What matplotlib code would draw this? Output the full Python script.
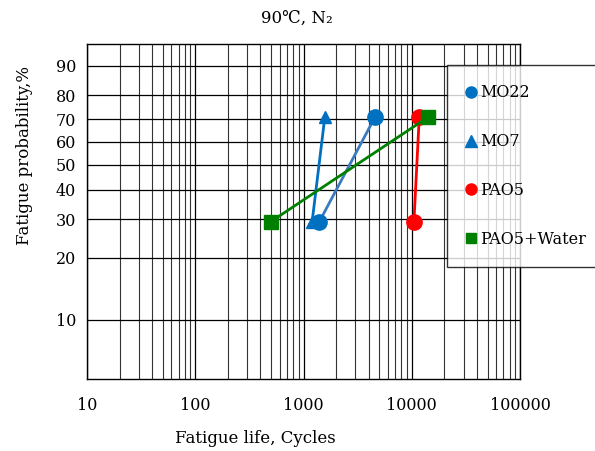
import numpy as np
import matplotlib
matplotlib.use("Agg")
import matplotlib.pyplot as plt
from matplotlib.lines import Line2D
from matplotlib.ticker import FixedLocator, NullFormatter, LogLocator

plt.rcParams['font.family'] = ['DejaVu Serif', 'DejaVu Sans']

series_names = ["MO22", "MO7", "PAO5", "PAO5+Water"]
prob = [29.3, 70.7]
mo22_life = [1400, 4550]
mo7_life = [1200, 1570]
pao5_life = [10450, 11700]
water_life = [500, 14000]
y_ticks = [10, 20, 30, 40, 50, 60, 70, 80, 90]
x_ticks = [10, 100, 1000, 10000, 100000]
x_tick_labels = ["10", "100", "1000", "10000", "100000"]

def fwd(p):
    p = np.clip(np.asarray(p, dtype=float), 1e-6, 100 - 1e-6)
    return np.log(-np.log(1 - p / 100.0))

def inv(y):
    y = np.asarray(y, dtype=float)
    return 100.0 * (1 - np.exp(-np.exp(y)))

fig = plt.figure(figsize=(5.95, 4.51), dpi=100)
ax = fig.add_axes([0.1462, 0.1596, 0.728, 0.743])
ax.set_xscale('log')
ax.set_yscale('function', functions=(fwd, inv))
ax.set_xlim(10, 100000)
ax.set_ylim(5, 95)

ax.xaxis.set_major_locator(FixedLocator(x_ticks))
ax.set_xticklabels(x_tick_labels)
ax.xaxis.set_minor_locator(LogLocator(base=10, subs=np.arange(2, 10)))
ax.xaxis.set_minor_formatter(NullFormatter())
ax.yaxis.set_major_locator(FixedLocator(y_ticks))
ax.set_yticklabels([str(v) for v in y_ticks])
ax.yaxis.set_minor_locator(FixedLocator([]))

ax.grid(True, which='major', axis='both', color='black', lw=0.9)
ax.grid(True, which='minor', axis='x', color='#333333', lw=0.8)
ax.set_axisbelow(True)
ax.tick_params(which='both', length=0, labelsize=11.5)
ax.tick_params(axis='x', pad=13)
ax.tick_params(axis='y', pad=8)
for s in ax.spines.values():
    s.set_linewidth(1.0)
    s.set_color('black')

blue = '#0070C0'
ax.plot(mo22_life, prob, color='#3A7BC0', lw=2.0, marker='o', ms=11, mfc=blue, mec=blue, zorder=3)
ax.plot(mo7_life, prob, color=blue, lw=2.0, marker='^', ms=9, mfc=blue, mec=blue, zorder=3)
ax.plot(pao5_life, prob, color='#FF0000', lw=2.0, marker='o', ms=11, mfc='#FF0000', mec='#FF0000', zorder=3)
ax.plot(water_life, prob, color='#008000', lw=2.0, marker='s', ms=10, mfc='#008000', mec='#008000', zorder=4)

handles = [
    Line2D([], [], ls='none', marker='o', ms=8, color=blue),
    Line2D([], [], ls='none', marker='^', ms=8, color=blue),
    Line2D([], [], ls='none', marker='o', ms=8, color='#FF0000'),
    Line2D([], [], ls='none', marker='s', ms=7, color='#008000'),
]
leg = fig.legend(handles, series_names, loc='upper left', bbox_to_anchor=(447/595, 1 - 65/451),
                 frameon=True, fancybox=False, edgecolor='black', fontsize=11.5,
                 labelspacing=2.0, handlelength=0.6, handletextpad=0.3,
                 borderpad=1.2, borderaxespad=0.0)
leg.get_frame().set_linewidth(1.0)

ax.set_xlabel("Fatigue life, Cycles", fontsize=12)
ax.xaxis.set_label_coords((255 - 87) / 433, -(430 - 379) / 335)
ax.set_ylabel("Fatigue probability,%", fontsize=12)
ax.yaxis.set_label_coords(-(87 - 33) / 433, (379 - 156) / 335)
fig.text(297/595, 1 - 18/451, "90℃, N₂", ha='center', va='center', fontsize=12)

fig.savefig("out.png", dpi=100)
